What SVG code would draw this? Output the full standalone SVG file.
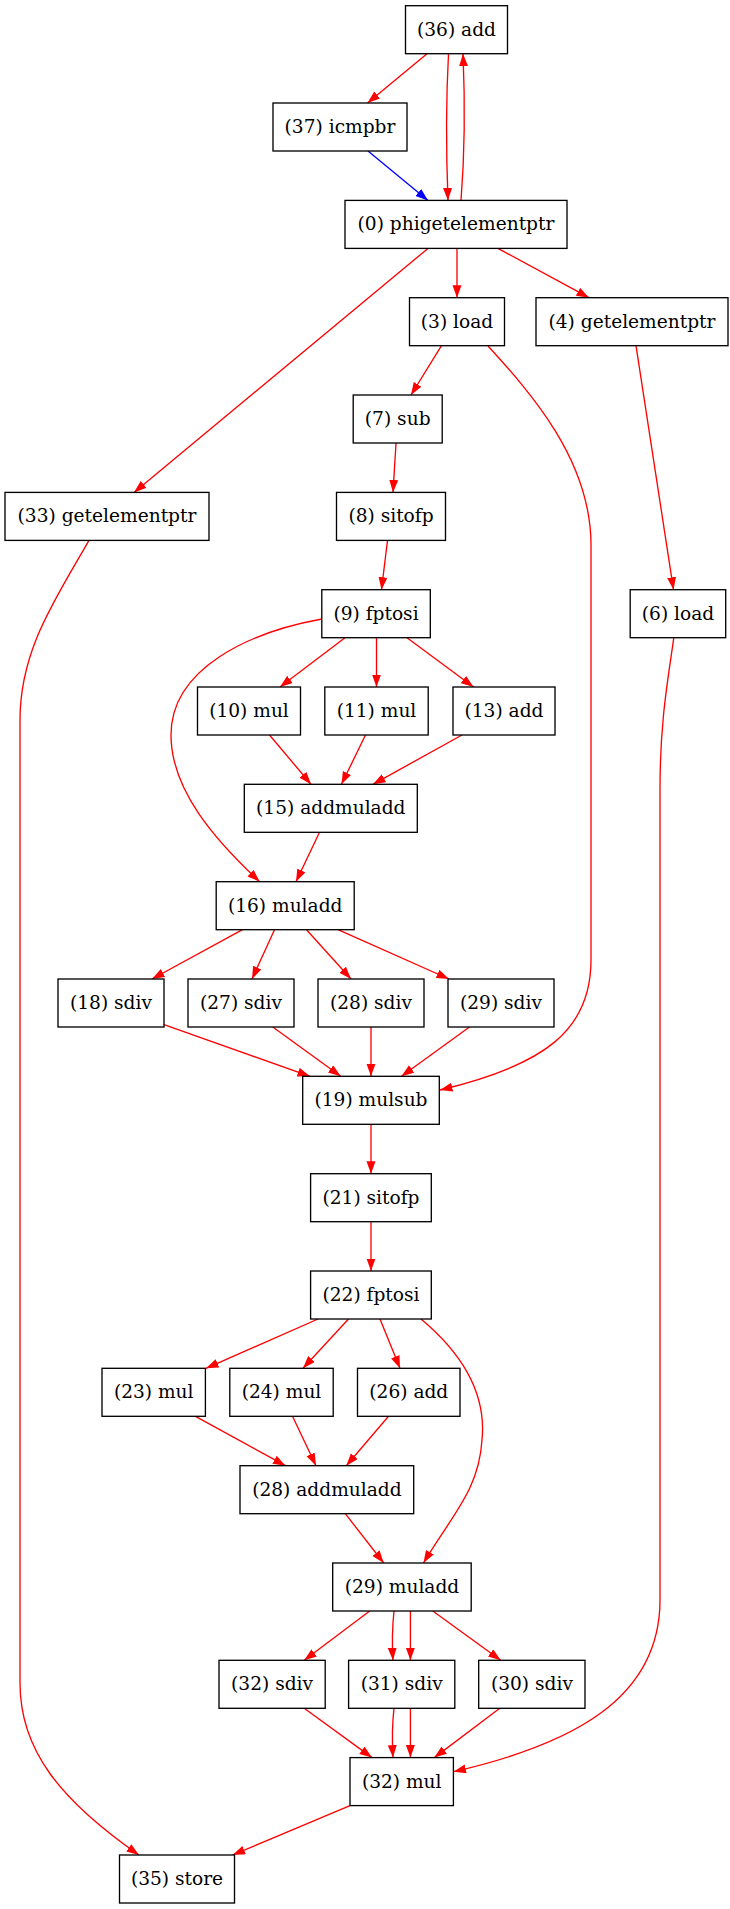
<svg xmlns="http://www.w3.org/2000/svg" width="730" height="1909" viewBox="0 0 730 1909">
  <style>
    .node rect { fill: #ffffff; stroke: #000000; stroke-width: 1.33; }
    .node text { font-family: "DejaVu Serif", "Liberation Serif", serif; font-size: 18.6px; fill: #000000; text-anchor: middle; }
    .edges path { fill: none; stroke-width: 1.33; }
    .edges .r { stroke: #ff0000; marker-end: url(#ah-red); }
    .edges .b { stroke: #0000ff; marker-end: url(#ah-blue); }
  </style>
  <defs>
    <marker id="ah-red" markerWidth="13" markerHeight="10" refX="12.5" refY="4.5" orient="auto" markerUnits="userSpaceOnUse">
      <path d="M0,0 L12.5,4.5 L0,9 z" fill="#ff0000"/>
    </marker>
    <marker id="ah-blue" markerWidth="13" markerHeight="10" refX="12.5" refY="4.5" orient="auto" markerUnits="userSpaceOnUse">
      <path d="M0,0 L12.5,4.5 L0,9 z" fill="#0000ff"/>
    </marker>
  </defs>
  <rect x="0" y="0" width="730" height="1909" fill="#ffffff"/>

  <g id="edges" class="edges">
    <path class="r" d="M427,53.7 L367.5,103"/>
    <path class="r" d="M448.5,53.7 C446,100 446,150 448,200.4"/>
    <path class="r" d="M461,200.4 C465,150 465,100 463,53.7"/>
    <path class="b" d="M368,151 L428,200.4"/>
    <path class="r" d="M457,248.4 L457,297.7"/>
    <path class="r" d="M498,248.4 L589,297.7"/>
    <path class="r" d="M428,248.4 L134,492.4"/>
    <path class="r" d="M441.5,345.7 L411,395"/>
    <path class="r" d="M488,346 C530,392 591,460 591,545 L591,960 C591,1030 545,1065 440,1090"/>
    <path class="r" d="M636,345.7 L673.5,589.7"/>
    <path class="r" d="M396,443 L393,492.4"/>
    <path class="r" d="M387.5,540.4 L381.5,589.7"/>
    <path class="r" d="M89,540.4 C55,600 20,650 20,720 L20,1683 C20,1750 60,1800 139,1855"/>
    <path class="r" d="M322,619 C250,632 171,668 171,735 C171,790 215,840 259.7,881.7"/>
    <path class="r" d="M345,637.7 L280,687"/>
    <path class="r" d="M376.5,637.7 L376.5,687"/>
    <path class="r" d="M407,637.7 L473.5,687"/>
    <path class="r" d="M673.8,637.7 C668,680 660,720 660,790 L660,1600 C660,1700 570,1745 453.5,1771.7"/>
    <path class="r" d="M269.5,735 L311,784.3"/>
    <path class="r" d="M365.5,735 L341.5,784.3"/>
    <path class="r" d="M462,735 L373,784.3"/>
    <path class="r" d="M319.5,832.3 L296,881.7"/>
    <path class="r" d="M242.5,929.7 L152,979"/>
    <path class="r" d="M274.5,929.7 L252,979"/>
    <path class="r" d="M306.5,929.7 L351,979"/>
    <path class="r" d="M338,929.7 L449,979"/>
    <path class="r" d="M164,1024.7 L310,1076.3"/>
    <path class="r" d="M272.8,1027 L340.7,1076.3"/>
    <path class="r" d="M371,1027 L371,1076.3"/>
    <path class="r" d="M469.5,1027 L401.5,1076.3"/>
    <path class="r" d="M371,1124.3 L371,1173.7"/>
    <path class="r" d="M371,1221.7 L371,1271"/>
    <path class="r" d="M318,1319 L206,1368.3"/>
    <path class="r" d="M348.5,1319 L303,1368.3"/>
    <path class="r" d="M380,1319 L400,1368.3"/>
    <path class="r" d="M421,1319 C470,1360 486,1400 482,1440 C479,1490 452,1515 423.5,1563"/>
    <path class="r" d="M195.5,1416.3 L285.5,1465.7"/>
    <path class="r" d="M292.5,1416.3 L316,1465.7"/>
    <path class="r" d="M388.5,1416.3 L346.3,1465.7"/>
    <path class="r" d="M345.3,1513.7 L383.7,1563"/>
    <path class="r" d="M369.7,1611 L304.2,1660.3"/>
    <path class="r" d="M394,1611 C392,1630 392,1645 393,1660.3"/>
    <path class="r" d="M410.4,1611 L410.4,1660.3"/>
    <path class="r" d="M432.8,1611 L500.7,1660.3"/>
    <path class="r" d="M304.2,1708.3 L372,1757.6"/>
    <path class="r" d="M394,1708.3 C392,1725 392,1740 393,1757.6"/>
    <path class="r" d="M410.4,1708.3 L410.4,1757.6"/>
    <path class="r" d="M499.8,1708.3 L434.3,1757.6"/>
    <path class="r" d="M350,1805.6 L232.6,1855"/>
  </g>

  <g id="n36" class="node"><rect x="405.5" y="5.7" width="102" height="48"/><text x="456.5" y="35.7">(36) add</text></g>
  <g id="n37" class="node"><rect x="273" y="103" width="134" height="48"/><text x="340" y="133">(37) icmpbr</text></g>
  <g id="n0" class="node"><rect x="345" y="200.4" width="222" height="48"/><text x="456" y="230.4">(0) phigetelementptr</text></g>
  <g id="n3" class="node"><rect x="409.5" y="297.7" width="95" height="48"/><text x="457" y="327.7">(3) load</text></g>
  <g id="n4" class="node"><rect x="536" y="297.7" width="192" height="48"/><text x="632" y="327.7">(4) getelementptr</text></g>
  <g id="n7" class="node"><rect x="353.2" y="395" width="89" height="48"/><text x="397.7" y="425">(7) sub</text></g>
  <g id="n33" class="node"><rect x="5" y="492.4" width="204" height="48"/><text x="107" y="522.4">(33) getelementptr</text></g>
  <g id="n8" class="node"><rect x="336.5" y="492.4" width="109" height="48"/><text x="391" y="522.4">(8) sitofp</text></g>
  <g id="n9" class="node"><rect x="321.8" y="589.7" width="108.5" height="48"/><text x="376" y="619.7">(9) fptosi</text></g>
  <g id="n6" class="node"><rect x="630.2" y="589.7" width="95.5" height="48"/><text x="678" y="619.7">(6) load</text></g>
  <g id="n10" class="node"><rect x="197.5" y="687" width="103" height="48"/><text x="249" y="717">(10) mul</text></g>
  <g id="n11" class="node"><rect x="324.8" y="687" width="103.4" height="48"/><text x="376.5" y="717">(11) mul</text></g>
  <g id="n13" class="node"><rect x="453" y="687" width="102" height="48"/><text x="504" y="717">(13) add</text></g>
  <g id="n15" class="node"><rect x="244.3" y="784.3" width="173" height="48"/><text x="330.8" y="814.3">(15) addmuladd</text></g>
  <g id="n16" class="node"><rect x="216.2" y="881.7" width="138" height="48"/><text x="285.2" y="911.7">(16) muladd</text></g>
  <g id="n18" class="node"><rect x="58" y="979" width="106" height="48"/><text x="111" y="1009">(18) sdiv</text></g>
  <g id="n27" class="node"><rect x="188" y="979" width="106" height="48"/><text x="241" y="1009">(27) sdiv</text></g>
  <g id="n28" class="node"><rect x="318" y="979" width="106" height="48"/><text x="371" y="1009">(28) sdiv</text></g>
  <g id="n29" class="node"><rect x="448" y="979" width="106" height="48"/><text x="501" y="1009">(29) sdiv</text></g>
  <g id="n19" class="node"><rect x="302.7" y="1076.3" width="136.6" height="48"/><text x="371" y="1106.3">(19) mulsub</text></g>
  <g id="n21" class="node"><rect x="310.6" y="1173.7" width="120.7" height="48"/><text x="371" y="1203.7">(21) sitofp</text></g>
  <g id="n22" class="node"><rect x="310.6" y="1271" width="120.7" height="48"/><text x="371" y="1301">(22) fptosi</text></g>
  <g id="n23" class="node"><rect x="102" y="1368.3" width="103.4" height="48"/><text x="153.7" y="1398.3">(23) mul</text></g>
  <g id="n24" class="node"><rect x="229.8" y="1368.3" width="103.4" height="48"/><text x="281.5" y="1398.3">(24) mul</text></g>
  <g id="n26" class="node"><rect x="357.5" y="1368.3" width="102.5" height="48"/><text x="408.8" y="1398.3">(26) add</text></g>
  <g id="n28b" class="node"><rect x="240" y="1465.7" width="173.7" height="48"/><text x="326.9" y="1495.7">(28) addmuladd</text></g>
  <g id="n29b" class="node"><rect x="332.7" y="1563" width="138.5" height="48"/><text x="402" y="1593">(29) muladd</text></g>
  <g id="n32s" class="node"><rect x="219" y="1660.3" width="106.2" height="48"/><text x="272.1" y="1690.3">(32) sdiv</text></g>
  <g id="n31" class="node"><rect x="348.6" y="1660.3" width="106.2" height="48"/><text x="401.7" y="1690.3">(31) sdiv</text></g>
  <g id="n30" class="node"><rect x="478.7" y="1660.3" width="106.3" height="48"/><text x="531.9" y="1690.3">(30) sdiv</text></g>
  <g id="n32m" class="node"><rect x="350" y="1757.6" width="103.4" height="48"/><text x="401.7" y="1787.6">(32) mul</text></g>
  <g id="n35" class="node"><rect x="119.5" y="1855" width="115" height="48"/><text x="177" y="1885">(35) store</text></g>
</svg>
